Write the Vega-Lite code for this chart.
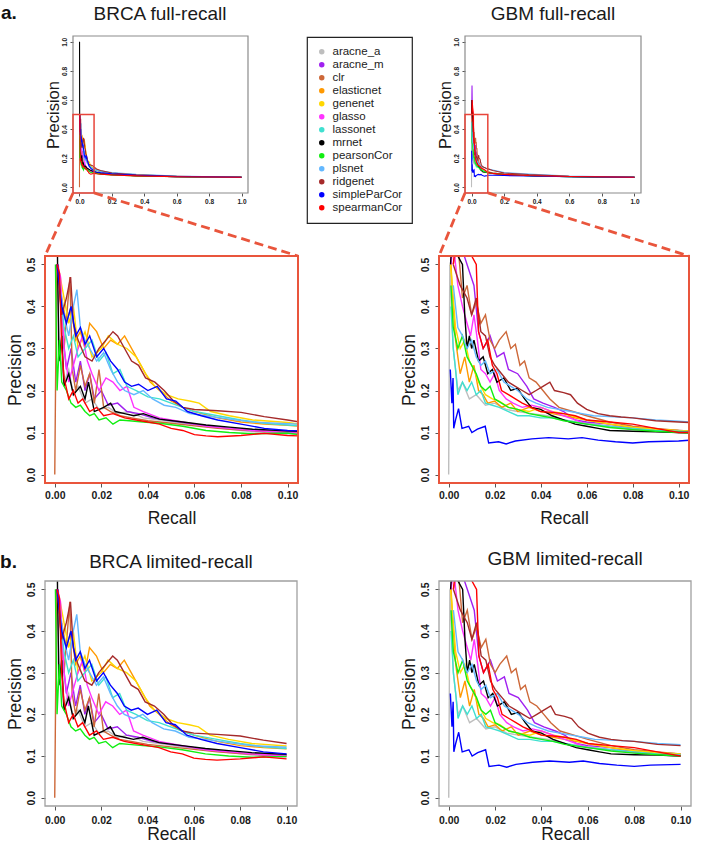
{
  "$schema": "https://vega.github.io/schema/vega-lite/v6.json",
  "autosize": {"type": "none"},
  "padding": {"left": 45, "top": 36, "right": 660, "bottom": 810},
  "background": "white",
  "columns": 2,
  "align": "none",
  "bounds": "flush",
  "spacing": {"row": 63, "column": 141},
  "datasets": {
    "brca": [
      {"m":"aracne_a","r":0.001,"p":0.5},{"m":"aracne_a","r":0.002,"p":0.3},{"m":"aracne_a","r":0.004,"p":0.22},{"m":"aracne_a","r":0.006,"p":0.25},{"m":"aracne_a","r":0.008,"p":0.19},{"m":"aracne_a","r":0.01,"p":0.21},{"m":"aracne_a","r":0.013,"p":0.17},{"m":"aracne_a","r":0.016,"p":0.18},{"m":"aracne_a","r":0.019,"p":0.155},{"m":"aracne_a","r":0.023,"p":0.16},{"m":"aracne_a","r":0.027,"p":0.145},{"m":"aracne_a","r":0.032,"p":0.15},{"m":"aracne_a","r":0.038,"p":0.135},{"m":"aracne_a","r":0.045,"p":0.13},{"m":"aracne_a","r":0.055,"p":0.122},{"m":"aracne_a","r":0.065,"p":0.115},{"m":"aracne_a","r":0.075,"p":0.108},{"m":"aracne_a","r":0.085,"p":0.102},{"m":"aracne_a","r":0.1,"p":0.097},{"m":"aracne_a","r":0.105,"p":0.095},{"m":"aracne_a","r":0.13,"p":0.092},{"m":"aracne_a","r":0.2,"p":0.086},{"m":"aracne_a","r":0.35,"p":0.079},{"m":"aracne_a","r":0.6,"p":0.072},{"m":"aracne_a","r":1,"p":0.068},
      {"m":"aracne_m","r":0.0015,"p":0.5},{"m":"aracne_m","r":0.003,"p":0.36},{"m":"aracne_m","r":0.005,"p":0.25},{"m":"aracne_m","r":0.007,"p":0.3},{"m":"aracne_m","r":0.009,"p":0.22},{"m":"aracne_m","r":0.011,"p":0.27},{"m":"aracne_m","r":0.013,"p":0.2},{"m":"aracne_m","r":0.015,"p":0.24},{"m":"aracne_m","r":0.017,"p":0.18},{"m":"aracne_m","r":0.02,"p":0.2},{"m":"aracne_m","r":0.023,"p":0.165},{"m":"aracne_m","r":0.027,"p":0.17},{"m":"aracne_m","r":0.031,"p":0.15},{"m":"aracne_m","r":0.036,"p":0.145},{"m":"aracne_m","r":0.042,"p":0.135},{"m":"aracne_m","r":0.05,"p":0.128},{"m":"aracne_m","r":0.06,"p":0.12},{"m":"aracne_m","r":0.07,"p":0.113},{"m":"aracne_m","r":0.08,"p":0.107},{"m":"aracne_m","r":0.09,"p":0.103},{"m":"aracne_m","r":0.1,"p":0.102},{"m":"aracne_m","r":0.105,"p":0.1},{"m":"aracne_m","r":0.13,"p":0.093},{"m":"aracne_m","r":0.2,"p":0.086},{"m":"aracne_m","r":0.35,"p":0.079},{"m":"aracne_m","r":0.6,"p":0.072},{"m":"aracne_m","r":1,"p":0.068},
      {"m":"clr","r":0,"p":0},{"m":"clr","r":0.0008,"p":0.5},{"m":"clr","r":0.002,"p":0.45},{"m":"clr","r":0.004,"p":0.3},{"m":"clr","r":0.0065,"p":0.47},{"m":"clr","r":0.0075,"p":0.25},{"m":"clr","r":0.009,"p":0.2},{"m":"clr","r":0.011,"p":0.26},{"m":"clr","r":0.013,"p":0.21},{"m":"clr","r":0.015,"p":0.24},{"m":"clr","r":0.017,"p":0.17},{"m":"clr","r":0.019,"p":0.25},{"m":"clr","r":0.021,"p":0.16},{"m":"clr","r":0.024,"p":0.15},{"m":"clr","r":0.028,"p":0.14},{"m":"clr","r":0.033,"p":0.135},{"m":"clr","r":0.04,"p":0.128},{"m":"clr","r":0.05,"p":0.122},{"m":"clr","r":0.06,"p":0.116},{"m":"clr","r":0.07,"p":0.11},{"m":"clr","r":0.08,"p":0.106},{"m":"clr","r":0.09,"p":0.103},{"m":"clr","r":0.1,"p":0.101},{"m":"clr","r":0.105,"p":0.1},{"m":"clr","r":0.13,"p":0.092},{"m":"clr","r":0.2,"p":0.086},{"m":"clr","r":0.35,"p":0.079},{"m":"clr","r":0.6,"p":0.072},{"m":"clr","r":1,"p":0.068},
      {"m":"elasticnet","r":0.001,"p":0.5},{"m":"elasticnet","r":0.003,"p":0.42},{"m":"elasticnet","r":0.005,"p":0.36},{"m":"elasticnet","r":0.007,"p":0.4},{"m":"elasticnet","r":0.009,"p":0.32},{"m":"elasticnet","r":0.011,"p":0.34},{"m":"elasticnet","r":0.013,"p":0.3},{"m":"elasticnet","r":0.015,"p":0.36},{"m":"elasticnet","r":0.018,"p":0.34},{"m":"elasticnet","r":0.021,"p":0.3},{"m":"elasticnet","r":0.024,"p":0.32},{"m":"elasticnet","r":0.027,"p":0.31},{"m":"elasticnet","r":0.03,"p":0.33},{"m":"elasticnet","r":0.034,"p":0.29},{"m":"elasticnet","r":0.038,"p":0.25},{"m":"elasticnet","r":0.041,"p":0.22},{"m":"elasticnet","r":0.045,"p":0.2},{"m":"elasticnet","r":0.05,"p":0.175},{"m":"elasticnet","r":0.055,"p":0.16},{"m":"elasticnet","r":0.06,"p":0.15},{"m":"elasticnet","r":0.07,"p":0.135},{"m":"elasticnet","r":0.08,"p":0.125},{"m":"elasticnet","r":0.09,"p":0.12},{"m":"elasticnet","r":0.1,"p":0.117},{"m":"elasticnet","r":0.105,"p":0.115},{"m":"elasticnet","r":0.13,"p":0.108},{"m":"elasticnet","r":0.2,"p":0.094},{"m":"elasticnet","r":0.35,"p":0.083},{"m":"elasticnet","r":0.6,"p":0.074},{"m":"elasticnet","r":1,"p":0.068},
      {"m":"genenet","r":0.002,"p":0.48},{"m":"genenet","r":0.004,"p":0.42},{"m":"genenet","r":0.006,"p":0.36},{"m":"genenet","r":0.008,"p":0.4},{"m":"genenet","r":0.01,"p":0.3},{"m":"genenet","r":0.013,"p":0.34},{"m":"genenet","r":0.016,"p":0.28},{"m":"genenet","r":0.02,"p":0.3},{"m":"genenet","r":0.023,"p":0.33},{"m":"genenet","r":0.027,"p":0.31},{"m":"genenet","r":0.031,"p":0.3},{"m":"genenet","r":0.035,"p":0.28},{"m":"genenet","r":0.039,"p":0.24},{"m":"genenet","r":0.043,"p":0.21},{"m":"genenet","r":0.048,"p":0.19},{"m":"genenet","r":0.053,"p":0.18},{"m":"genenet","r":0.058,"p":0.175},{"m":"genenet","r":0.062,"p":0.17},{"m":"genenet","r":0.067,"p":0.15},{"m":"genenet","r":0.075,"p":0.14},{"m":"genenet","r":0.085,"p":0.13},{"m":"genenet","r":0.1,"p":0.124},{"m":"genenet","r":0.105,"p":0.12},{"m":"genenet","r":0.13,"p":0.11},{"m":"genenet","r":0.2,"p":0.095},{"m":"genenet","r":0.35,"p":0.084},{"m":"genenet","r":0.6,"p":0.074},{"m":"genenet","r":1,"p":0.068},
      {"m":"glasso","r":0.001,"p":0.5},{"m":"glasso","r":0.0025,"p":0.47},{"m":"glasso","r":0.004,"p":0.3},{"m":"glasso","r":0.006,"p":0.22},{"m":"glasso","r":0.008,"p":0.26},{"m":"glasso","r":0.01,"p":0.3},{"m":"glasso","r":0.012,"p":0.33},{"m":"glasso","r":0.014,"p":0.27},{"m":"glasso","r":0.016,"p":0.24},{"m":"glasso","r":0.019,"p":0.2},{"m":"glasso","r":0.022,"p":0.23},{"m":"glasso","r":0.025,"p":0.22},{"m":"glasso","r":0.028,"p":0.2},{"m":"glasso","r":0.031,"p":0.21},{"m":"glasso","r":0.034,"p":0.16},{"m":"glasso","r":0.038,"p":0.15},{"m":"glasso","r":0.045,"p":0.135},{"m":"glasso","r":0.055,"p":0.125},{"m":"glasso","r":0.065,"p":0.115},{"m":"glasso","r":0.075,"p":0.11},{"m":"glasso","r":0.085,"p":0.105},{"m":"glasso","r":0.1,"p":0.1},{"m":"glasso","r":0.105,"p":0.098},{"m":"glasso","r":0.13,"p":0.092},{"m":"glasso","r":0.2,"p":0.086},{"m":"glasso","r":0.35,"p":0.079},{"m":"glasso","r":0.6,"p":0.072},{"m":"glasso","r":1,"p":0.068},
      {"m":"lassonet","r":0.002,"p":0.45},{"m":"lassonet","r":0.004,"p":0.35},{"m":"lassonet","r":0.006,"p":0.3},{"m":"lassonet","r":0.008,"p":0.33},{"m":"lassonet","r":0.01,"p":0.28},{"m":"lassonet","r":0.013,"p":0.3},{"m":"lassonet","r":0.016,"p":0.32},{"m":"lassonet","r":0.019,"p":0.27},{"m":"lassonet","r":0.022,"p":0.29},{"m":"lassonet","r":0.025,"p":0.24},{"m":"lassonet","r":0.028,"p":0.25},{"m":"lassonet","r":0.031,"p":0.21},{"m":"lassonet","r":0.035,"p":0.2},{"m":"lassonet","r":0.04,"p":0.185},{"m":"lassonet","r":0.045,"p":0.18},{"m":"lassonet","r":0.05,"p":0.17},{"m":"lassonet","r":0.055,"p":0.16},{"m":"lassonet","r":0.06,"p":0.15},{"m":"lassonet","r":0.07,"p":0.14},{"m":"lassonet","r":0.08,"p":0.13},{"m":"lassonet","r":0.09,"p":0.122},{"m":"lassonet","r":0.1,"p":0.118},{"m":"lassonet","r":0.105,"p":0.116},{"m":"lassonet","r":0.13,"p":0.11},{"m":"lassonet","r":0.2,"p":0.097},{"m":"lassonet","r":0.35,"p":0.086},{"m":"lassonet","r":0.6,"p":0.075},{"m":"lassonet","r":1,"p":0.068},
      {"m":"mrnet","r":0.0004,"p":1},{"m":"mrnet","r":0.0012,"p":0.5},{"m":"mrnet","r":0.0018,"p":0.27},{"m":"mrnet","r":0.003,"p":0.33},{"m":"mrnet","r":0.004,"p":0.21},{"m":"mrnet","r":0.006,"p":0.24},{"m":"mrnet","r":0.008,"p":0.19},{"m":"mrnet","r":0.011,"p":0.21},{"m":"mrnet","r":0.013,"p":0.18},{"m":"mrnet","r":0.0145,"p":0.22},{"m":"mrnet","r":0.017,"p":0.15},{"m":"mrnet","r":0.021,"p":0.16},{"m":"mrnet","r":0.024,"p":0.17},{"m":"mrnet","r":0.026,"p":0.15},{"m":"mrnet","r":0.03,"p":0.145},{"m":"mrnet","r":0.034,"p":0.14},{"m":"mrnet","r":0.038,"p":0.145},{"m":"mrnet","r":0.045,"p":0.132},{"m":"mrnet","r":0.055,"p":0.125},{"m":"mrnet","r":0.065,"p":0.118},{"m":"mrnet","r":0.075,"p":0.113},{"m":"mrnet","r":0.085,"p":0.108},{"m":"mrnet","r":0.1,"p":0.104},{"m":"mrnet","r":0.105,"p":0.103},{"m":"mrnet","r":0.13,"p":0.094},{"m":"mrnet","r":0.2,"p":0.087},{"m":"mrnet","r":0.35,"p":0.079},{"m":"mrnet","r":0.6,"p":0.072},{"m":"mrnet","r":1,"p":0.068},
      {"m":"pearsonCor","r":0.0003,"p":0.5},{"m":"pearsonCor","r":0.001,"p":0.2},{"m":"pearsonCor","r":0.002,"p":0.32},{"m":"pearsonCor","r":0.003,"p":0.22},{"m":"pearsonCor","r":0.005,"p":0.2},{"m":"pearsonCor","r":0.007,"p":0.17},{"m":"pearsonCor","r":0.009,"p":0.16},{"m":"pearsonCor","r":0.011,"p":0.165},{"m":"pearsonCor","r":0.013,"p":0.15},{"m":"pearsonCor","r":0.015,"p":0.14},{"m":"pearsonCor","r":0.017,"p":0.145},{"m":"pearsonCor","r":0.019,"p":0.13},{"m":"pearsonCor","r":0.022,"p":0.135},{"m":"pearsonCor","r":0.025,"p":0.12},{"m":"pearsonCor","r":0.028,"p":0.13},{"m":"pearsonCor","r":0.032,"p":0.128},{"m":"pearsonCor","r":0.038,"p":0.125},{"m":"pearsonCor","r":0.045,"p":0.122},{"m":"pearsonCor","r":0.055,"p":0.115},{"m":"pearsonCor","r":0.065,"p":0.105},{"m":"pearsonCor","r":0.075,"p":0.1},{"m":"pearsonCor","r":0.085,"p":0.097},{"m":"pearsonCor","r":0.1,"p":0.099},{"m":"pearsonCor","r":0.105,"p":0.095},{"m":"pearsonCor","r":0.13,"p":0.09},{"m":"pearsonCor","r":0.2,"p":0.085},{"m":"pearsonCor","r":0.35,"p":0.078},{"m":"pearsonCor","r":0.6,"p":0.072},{"m":"pearsonCor","r":1,"p":0.068},
      {"m":"plsnet","r":0.002,"p":0.45},{"m":"plsnet","r":0.004,"p":0.38},{"m":"plsnet","r":0.006,"p":0.33},{"m":"plsnet","r":0.008,"p":0.4},{"m":"plsnet","r":0.0095,"p":0.44},{"m":"plsnet","r":0.011,"p":0.35},{"m":"plsnet","r":0.013,"p":0.32},{"m":"plsnet","r":0.015,"p":0.3},{"m":"plsnet","r":0.018,"p":0.27},{"m":"plsnet","r":0.021,"p":0.29},{"m":"plsnet","r":0.024,"p":0.25},{"m":"plsnet","r":0.027,"p":0.22},{"m":"plsnet","r":0.03,"p":0.2},{"m":"plsnet","r":0.034,"p":0.19},{"m":"plsnet","r":0.038,"p":0.2},{"m":"plsnet","r":0.042,"p":0.18},{"m":"plsnet","r":0.047,"p":0.165},{"m":"plsnet","r":0.052,"p":0.16},{"m":"plsnet","r":0.058,"p":0.145},{"m":"plsnet","r":0.065,"p":0.14},{"m":"plsnet","r":0.075,"p":0.132},{"m":"plsnet","r":0.085,"p":0.125},{"m":"plsnet","r":0.1,"p":0.121},{"m":"plsnet","r":0.105,"p":0.12},{"m":"plsnet","r":0.13,"p":0.112},{"m":"plsnet","r":0.2,"p":0.1},{"m":"plsnet","r":0.35,"p":0.088},{"m":"plsnet","r":0.6,"p":0.076},{"m":"plsnet","r":1,"p":0.068},
      {"m":"ridgenet","r":0.001,"p":0.5},{"m":"ridgenet","r":0.003,"p":0.38},{"m":"ridgenet","r":0.005,"p":0.42},{"m":"ridgenet","r":0.0068,"p":0.47},{"m":"ridgenet","r":0.008,"p":0.36},{"m":"ridgenet","r":0.01,"p":0.32},{"m":"ridgenet","r":0.013,"p":0.28},{"m":"ridgenet","r":0.016,"p":0.27},{"m":"ridgenet","r":0.019,"p":0.3},{"m":"ridgenet","r":0.022,"p":0.32},{"m":"ridgenet","r":0.025,"p":0.34},{"m":"ridgenet","r":0.027,"p":0.33},{"m":"ridgenet","r":0.03,"p":0.3},{"m":"ridgenet","r":0.033,"p":0.27},{"m":"ridgenet","r":0.036,"p":0.26},{"m":"ridgenet","r":0.039,"p":0.23},{"m":"ridgenet","r":0.043,"p":0.22},{"m":"ridgenet","r":0.047,"p":0.2},{"m":"ridgenet","r":0.051,"p":0.175},{"m":"ridgenet","r":0.055,"p":0.16},{"m":"ridgenet","r":0.06,"p":0.155},{"m":"ridgenet","r":0.07,"p":0.152},{"m":"ridgenet","r":0.08,"p":0.148},{"m":"ridgenet","r":0.09,"p":0.138},{"m":"ridgenet","r":0.1,"p":0.13},{"m":"ridgenet","r":0.105,"p":0.125},{"m":"ridgenet","r":0.13,"p":0.115},{"m":"ridgenet","r":0.2,"p":0.098},{"m":"ridgenet","r":0.35,"p":0.085},{"m":"ridgenet","r":0.6,"p":0.075},{"m":"ridgenet","r":1,"p":0.068},
      {"m":"simpleParCor","r":0.001,"p":0.5},{"m":"simpleParCor","r":0.003,"p":0.4},{"m":"simpleParCor","r":0.005,"p":0.36},{"m":"simpleParCor","r":0.007,"p":0.4},{"m":"simpleParCor","r":0.009,"p":0.33},{"m":"simpleParCor","r":0.011,"p":0.35},{"m":"simpleParCor","r":0.013,"p":0.31},{"m":"simpleParCor","r":0.015,"p":0.33},{"m":"simpleParCor","r":0.018,"p":0.28},{"m":"simpleParCor","r":0.021,"p":0.3},{"m":"simpleParCor","r":0.024,"p":0.27},{"m":"simpleParCor","r":0.027,"p":0.25},{"m":"simpleParCor","r":0.03,"p":0.22},{"m":"simpleParCor","r":0.033,"p":0.21},{"m":"simpleParCor","r":0.036,"p":0.215},{"m":"simpleParCor","r":0.04,"p":0.2},{"m":"simpleParCor","r":0.044,"p":0.21},{"m":"simpleParCor","r":0.048,"p":0.18},{"m":"simpleParCor","r":0.052,"p":0.175},{"m":"simpleParCor","r":0.057,"p":0.15},{"m":"simpleParCor","r":0.063,"p":0.14},{"m":"simpleParCor","r":0.07,"p":0.13},{"m":"simpleParCor","r":0.08,"p":0.12},{"m":"simpleParCor","r":0.09,"p":0.11},{"m":"simpleParCor","r":0.1,"p":0.105},{"m":"simpleParCor","r":0.105,"p":0.104},{"m":"simpleParCor","r":0.13,"p":0.1},{"m":"simpleParCor","r":0.2,"p":0.092},{"m":"simpleParCor","r":0.35,"p":0.082},{"m":"simpleParCor","r":0.6,"p":0.073},{"m":"simpleParCor","r":1,"p":0.068},
      {"m":"spearmanCor","r":0.001,"p":0.5},{"m":"spearmanCor","r":0.002,"p":0.48},{"m":"spearmanCor","r":0.003,"p":0.3},{"m":"spearmanCor","r":0.004,"p":0.23},{"m":"spearmanCor","r":0.006,"p":0.18},{"m":"spearmanCor","r":0.008,"p":0.2},{"m":"spearmanCor","r":0.01,"p":0.17},{"m":"spearmanCor","r":0.012,"p":0.18},{"m":"spearmanCor","r":0.015,"p":0.15},{"m":"spearmanCor","r":0.018,"p":0.16},{"m":"spearmanCor","r":0.021,"p":0.14},{"m":"spearmanCor","r":0.025,"p":0.145},{"m":"spearmanCor","r":0.03,"p":0.135},{"m":"spearmanCor","r":0.035,"p":0.13},{"m":"spearmanCor","r":0.04,"p":0.125},{"m":"spearmanCor","r":0.045,"p":0.12},{"m":"spearmanCor","r":0.05,"p":0.11},{"m":"spearmanCor","r":0.055,"p":0.105},{"m":"spearmanCor","r":0.06,"p":0.095},{"m":"spearmanCor","r":0.065,"p":0.092},{"m":"spearmanCor","r":0.07,"p":0.09},{"m":"spearmanCor","r":0.08,"p":0.093},{"m":"spearmanCor","r":0.09,"p":0.098},{"m":"spearmanCor","r":0.1,"p":0.093},{"m":"spearmanCor","r":0.105,"p":0.092},{"m":"spearmanCor","r":0.13,"p":0.09},{"m":"spearmanCor","r":0.2,"p":0.085},{"m":"spearmanCor","r":0.35,"p":0.078},{"m":"spearmanCor","r":0.6,"p":0.072},{"m":"spearmanCor","r":1,"p":0.068}
    ],
    "gbm": [
      {"m":"aracne_a","r":0,"p":0},{"m":"aracne_a","r":0.0005,"p":0.5},{"m":"aracne_a","r":0.002,"p":0.3},{"m":"aracne_a","r":0.004,"p":0.2},{"m":"aracne_a","r":0.006,"p":0.22},{"m":"aracne_a","r":0.009,"p":0.18},{"m":"aracne_a","r":0.012,"p":0.19},{"m":"aracne_a","r":0.016,"p":0.165},{"m":"aracne_a","r":0.02,"p":0.17},{"m":"aracne_a","r":0.025,"p":0.155},{"m":"aracne_a","r":0.03,"p":0.15},{"m":"aracne_a","r":0.036,"p":0.145},{"m":"aracne_a","r":0.043,"p":0.14},{"m":"aracne_a","r":0.05,"p":0.13},{"m":"aracne_a","r":0.06,"p":0.122},{"m":"aracne_a","r":0.07,"p":0.115},{"m":"aracne_a","r":0.08,"p":0.11},{"m":"aracne_a","r":0.09,"p":0.105},{"m":"aracne_a","r":0.1,"p":0.102},{"m":"aracne_a","r":0.105,"p":0.1},{"m":"aracne_a","r":0.13,"p":0.095},{"m":"aracne_a","r":0.2,"p":0.088},{"m":"aracne_a","r":0.35,"p":0.08},{"m":"aracne_a","r":0.6,"p":0.073},{"m":"aracne_a","r":1,"p":0.068},
      {"m":"aracne_m","r":0.001,"p":0.5},{"m":"aracne_m","r":0.003,"p":0.7},{"m":"aracne_m","r":0.005,"p":0.55},{"m":"aracne_m","r":0.008,"p":0.5},{"m":"aracne_m","r":0.011,"p":0.45},{"m":"aracne_m","r":0.013,"p":0.34},{"m":"aracne_m","r":0.015,"p":0.3},{"m":"aracne_m","r":0.018,"p":0.33},{"m":"aracne_m","r":0.021,"p":0.28},{"m":"aracne_m","r":0.024,"p":0.29},{"m":"aracne_m","r":0.026,"p":0.25},{"m":"aracne_m","r":0.03,"p":0.24},{"m":"aracne_m","r":0.034,"p":0.21},{"m":"aracne_m","r":0.037,"p":0.18},{"m":"aracne_m","r":0.041,"p":0.17},{"m":"aracne_m","r":0.046,"p":0.16},{"m":"aracne_m","r":0.05,"p":0.15},{"m":"aracne_m","r":0.055,"p":0.13},{"m":"aracne_m","r":0.06,"p":0.125},{"m":"aracne_m","r":0.07,"p":0.12},{"m":"aracne_m","r":0.08,"p":0.11},{"m":"aracne_m","r":0.09,"p":0.108},{"m":"aracne_m","r":0.1,"p":0.105},{"m":"aracne_m","r":0.105,"p":0.104},{"m":"aracne_m","r":0.13,"p":0.097},{"m":"aracne_m","r":0.2,"p":0.088},{"m":"aracne_m","r":0.35,"p":0.08},{"m":"aracne_m","r":0.6,"p":0.073},{"m":"aracne_m","r":1,"p":0.068},
      {"m":"clr","r":0.002,"p":0.5},{"m":"clr","r":0.004,"p":0.55},{"m":"clr","r":0.006,"p":0.42},{"m":"clr","r":0.008,"p":0.45},{"m":"clr","r":0.01,"p":0.38},{"m":"clr","r":0.012,"p":0.41},{"m":"clr","r":0.014,"p":0.36},{"m":"clr","r":0.016,"p":0.38},{"m":"clr","r":0.018,"p":0.32},{"m":"clr","r":0.02,"p":0.3},{"m":"clr","r":0.022,"p":0.32},{"m":"clr","r":0.025,"p":0.34},{"m":"clr","r":0.027,"p":0.3},{"m":"clr","r":0.029,"p":0.31},{"m":"clr","r":0.031,"p":0.26},{"m":"clr","r":0.033,"p":0.27},{"m":"clr","r":0.035,"p":0.23},{"m":"clr","r":0.038,"p":0.22},{"m":"clr","r":0.041,"p":0.2},{"m":"clr","r":0.044,"p":0.18},{"m":"clr","r":0.048,"p":0.16},{"m":"clr","r":0.054,"p":0.15},{"m":"clr","r":0.06,"p":0.14},{"m":"clr","r":0.07,"p":0.125},{"m":"clr","r":0.08,"p":0.115},{"m":"clr","r":0.09,"p":0.11},{"m":"clr","r":0.1,"p":0.105},{"m":"clr","r":0.105,"p":0.104},{"m":"clr","r":0.13,"p":0.097},{"m":"clr","r":0.2,"p":0.088},{"m":"clr","r":0.35,"p":0.08},{"m":"clr","r":0.6,"p":0.073},{"m":"clr","r":1,"p":0.068},
      {"m":"elasticnet","r":0.001,"p":0.5},{"m":"elasticnet","r":0.002,"p":0.4},{"m":"elasticnet","r":0.003,"p":0.32},{"m":"elasticnet","r":0.005,"p":0.24},{"m":"elasticnet","r":0.007,"p":0.28},{"m":"elasticnet","r":0.009,"p":0.22},{"m":"elasticnet","r":0.011,"p":0.26},{"m":"elasticnet","r":0.013,"p":0.2},{"m":"elasticnet","r":0.015,"p":0.19},{"m":"elasticnet","r":0.017,"p":0.17},{"m":"elasticnet","r":0.02,"p":0.175},{"m":"elasticnet","r":0.023,"p":0.16},{"m":"elasticnet","r":0.027,"p":0.17},{"m":"elasticnet","r":0.03,"p":0.15},{"m":"elasticnet","r":0.035,"p":0.16},{"m":"elasticnet","r":0.04,"p":0.15},{"m":"elasticnet","r":0.045,"p":0.145},{"m":"elasticnet","r":0.05,"p":0.14},{"m":"elasticnet","r":0.06,"p":0.13},{"m":"elasticnet","r":0.07,"p":0.12},{"m":"elasticnet","r":0.08,"p":0.112},{"m":"elasticnet","r":0.09,"p":0.107},{"m":"elasticnet","r":0.1,"p":0.104},{"m":"elasticnet","r":0.105,"p":0.103},{"m":"elasticnet","r":0.13,"p":0.097},{"m":"elasticnet","r":0.2,"p":0.088},{"m":"elasticnet","r":0.35,"p":0.08},{"m":"elasticnet","r":0.6,"p":0.073},{"m":"elasticnet","r":1,"p":0.068},
      {"m":"genenet","r":0.0008,"p":0.5},{"m":"genenet","r":0.002,"p":0.42},{"m":"genenet","r":0.003,"p":0.35},{"m":"genenet","r":0.005,"p":0.3},{"m":"genenet","r":0.007,"p":0.32},{"m":"genenet","r":0.009,"p":0.27},{"m":"genenet","r":0.011,"p":0.25},{"m":"genenet","r":0.013,"p":0.22},{"m":"genenet","r":0.016,"p":0.19},{"m":"genenet","r":0.019,"p":0.18},{"m":"genenet","r":0.022,"p":0.175},{"m":"genenet","r":0.026,"p":0.16},{"m":"genenet","r":0.03,"p":0.155},{"m":"genenet","r":0.035,"p":0.15},{"m":"genenet","r":0.04,"p":0.16},{"m":"genenet","r":0.045,"p":0.15},{"m":"genenet","r":0.05,"p":0.145},{"m":"genenet","r":0.06,"p":0.13},{"m":"genenet","r":0.07,"p":0.12},{"m":"genenet","r":0.08,"p":0.113},{"m":"genenet","r":0.09,"p":0.108},{"m":"genenet","r":0.1,"p":0.105},{"m":"genenet","r":0.105,"p":0.104},{"m":"genenet","r":0.13,"p":0.097},{"m":"genenet","r":0.2,"p":0.088},{"m":"genenet","r":0.35,"p":0.08},{"m":"genenet","r":0.6,"p":0.073},{"m":"genenet","r":1,"p":0.068},
      {"m":"glasso","r":0.001,"p":0.5},{"m":"glasso","r":0.002,"p":0.55},{"m":"glasso","r":0.004,"p":0.45},{"m":"glasso","r":0.006,"p":0.4},{"m":"glasso","r":0.008,"p":0.36},{"m":"glasso","r":0.0095,"p":0.33},{"m":"glasso","r":0.011,"p":0.38},{"m":"glasso","r":0.0125,"p":0.32},{"m":"glasso","r":0.014,"p":0.25},{"m":"glasso","r":0.016,"p":0.24},{"m":"glasso","r":0.018,"p":0.22},{"m":"glasso","r":0.02,"p":0.24},{"m":"glasso","r":0.022,"p":0.2},{"m":"glasso","r":0.025,"p":0.18},{"m":"glasso","r":0.028,"p":0.17},{"m":"glasso","r":0.032,"p":0.16},{"m":"glasso","r":0.036,"p":0.165},{"m":"glasso","r":0.04,"p":0.16},{"m":"glasso","r":0.045,"p":0.15},{"m":"glasso","r":0.05,"p":0.14},{"m":"glasso","r":0.055,"p":0.13},{"m":"glasso","r":0.06,"p":0.12},{"m":"glasso","r":0.07,"p":0.115},{"m":"glasso","r":0.08,"p":0.108},{"m":"glasso","r":0.09,"p":0.103},{"m":"glasso","r":0.1,"p":0.1},{"m":"glasso","r":0.105,"p":0.099},{"m":"glasso","r":0.13,"p":0.095},{"m":"glasso","r":0.2,"p":0.088},{"m":"glasso","r":0.35,"p":0.08},{"m":"glasso","r":0.6,"p":0.073},{"m":"glasso","r":1,"p":0.068},
      {"m":"lassonet","r":0.001,"p":0.4},{"m":"lassonet","r":0.002,"p":0.3},{"m":"lassonet","r":0.003,"p":0.25},{"m":"lassonet","r":0.004,"p":0.19},{"m":"lassonet","r":0.006,"p":0.22},{"m":"lassonet","r":0.008,"p":0.2},{"m":"lassonet","r":0.01,"p":0.22},{"m":"lassonet","r":0.012,"p":0.19},{"m":"lassonet","r":0.014,"p":0.2},{"m":"lassonet","r":0.016,"p":0.17},{"m":"lassonet","r":0.019,"p":0.165},{"m":"lassonet","r":0.022,"p":0.16},{"m":"lassonet","r":0.026,"p":0.15},{"m":"lassonet","r":0.03,"p":0.14},{"m":"lassonet","r":0.035,"p":0.14},{"m":"lassonet","r":0.04,"p":0.135},{"m":"lassonet","r":0.045,"p":0.135},{"m":"lassonet","r":0.05,"p":0.13},{"m":"lassonet","r":0.06,"p":0.12},{"m":"lassonet","r":0.07,"p":0.115},{"m":"lassonet","r":0.08,"p":0.11},{"m":"lassonet","r":0.09,"p":0.105},{"m":"lassonet","r":0.1,"p":0.103},{"m":"lassonet","r":0.105,"p":0.102},{"m":"lassonet","r":0.13,"p":0.097},{"m":"lassonet","r":0.2,"p":0.09},{"m":"lassonet","r":0.35,"p":0.082},{"m":"lassonet","r":0.6,"p":0.074},{"m":"lassonet","r":1,"p":0.068},
      {"m":"mrnet","r":0.0008,"p":0.5},{"m":"mrnet","r":0.002,"p":0.6},{"m":"mrnet","r":0.004,"p":0.52},{"m":"mrnet","r":0.006,"p":0.5},{"m":"mrnet","r":0.007,"p":0.38},{"m":"mrnet","r":0.008,"p":0.3},{"m":"mrnet","r":0.009,"p":0.33},{"m":"mrnet","r":0.01,"p":0.3},{"m":"mrnet","r":0.011,"p":0.32},{"m":"mrnet","r":0.013,"p":0.27},{"m":"mrnet","r":0.015,"p":0.28},{"m":"mrnet","r":0.017,"p":0.24},{"m":"mrnet","r":0.019,"p":0.25},{"m":"mrnet","r":0.021,"p":0.22},{"m":"mrnet","r":0.024,"p":0.23},{"m":"mrnet","r":0.027,"p":0.2},{"m":"mrnet","r":0.03,"p":0.205},{"m":"mrnet","r":0.033,"p":0.18},{"m":"mrnet","r":0.036,"p":0.16},{"m":"mrnet","r":0.04,"p":0.155},{"m":"mrnet","r":0.045,"p":0.14},{"m":"mrnet","r":0.05,"p":0.13},{"m":"mrnet","r":0.055,"p":0.12},{"m":"mrnet","r":0.06,"p":0.115},{"m":"mrnet","r":0.065,"p":0.11},{"m":"mrnet","r":0.07,"p":0.105},{"m":"mrnet","r":0.08,"p":0.103},{"m":"mrnet","r":0.09,"p":0.102},{"m":"mrnet","r":0.1,"p":0.1},{"m":"mrnet","r":0.105,"p":0.1},{"m":"mrnet","r":0.13,"p":0.094},{"m":"mrnet","r":0.2,"p":0.087},{"m":"mrnet","r":0.35,"p":0.079},{"m":"mrnet","r":0.6,"p":0.072},{"m":"mrnet","r":1,"p":0.068},
      {"m":"pearsonCor","r":0.001,"p":0.45},{"m":"pearsonCor","r":0.002,"p":0.35},{"m":"pearsonCor","r":0.004,"p":0.3},{"m":"pearsonCor","r":0.006,"p":0.33},{"m":"pearsonCor","r":0.008,"p":0.28},{"m":"pearsonCor","r":0.01,"p":0.26},{"m":"pearsonCor","r":0.012,"p":0.24},{"m":"pearsonCor","r":0.014,"p":0.21},{"m":"pearsonCor","r":0.016,"p":0.2},{"m":"pearsonCor","r":0.018,"p":0.21},{"m":"pearsonCor","r":0.02,"p":0.18},{"m":"pearsonCor","r":0.023,"p":0.17},{"m":"pearsonCor","r":0.026,"p":0.16},{"m":"pearsonCor","r":0.03,"p":0.155},{"m":"pearsonCor","r":0.035,"p":0.145},{"m":"pearsonCor","r":0.04,"p":0.14},{"m":"pearsonCor","r":0.045,"p":0.135},{"m":"pearsonCor","r":0.05,"p":0.128},{"m":"pearsonCor","r":0.06,"p":0.12},{"m":"pearsonCor","r":0.07,"p":0.112},{"m":"pearsonCor","r":0.08,"p":0.107},{"m":"pearsonCor","r":0.09,"p":0.103},{"m":"pearsonCor","r":0.1,"p":0.1},{"m":"pearsonCor","r":0.105,"p":0.098},{"m":"pearsonCor","r":0.13,"p":0.094},{"m":"pearsonCor","r":0.2,"p":0.087},{"m":"pearsonCor","r":0.35,"p":0.079},{"m":"pearsonCor","r":0.6,"p":0.072},{"m":"pearsonCor","r":1,"p":0.068},
      {"m":"plsnet","r":0.002,"p":0.45},{"m":"plsnet","r":0.004,"p":0.35},{"m":"plsnet","r":0.006,"p":0.33},{"m":"plsnet","r":0.008,"p":0.3},{"m":"plsnet","r":0.01,"p":0.32},{"m":"plsnet","r":0.012,"p":0.28},{"m":"plsnet","r":0.014,"p":0.26},{"m":"plsnet","r":0.016,"p":0.27},{"m":"plsnet","r":0.018,"p":0.24},{"m":"plsnet","r":0.021,"p":0.25},{"m":"plsnet","r":0.024,"p":0.22},{"m":"plsnet","r":0.027,"p":0.21},{"m":"plsnet","r":0.03,"p":0.2},{"m":"plsnet","r":0.034,"p":0.18},{"m":"plsnet","r":0.038,"p":0.17},{"m":"plsnet","r":0.043,"p":0.16},{"m":"plsnet","r":0.048,"p":0.155},{"m":"plsnet","r":0.053,"p":0.15},{"m":"plsnet","r":0.058,"p":0.145},{"m":"plsnet","r":0.063,"p":0.14},{"m":"plsnet","r":0.07,"p":0.138},{"m":"plsnet","r":0.08,"p":0.135},{"m":"plsnet","r":0.09,"p":0.13},{"m":"plsnet","r":0.1,"p":0.127},{"m":"plsnet","r":0.105,"p":0.125},{"m":"plsnet","r":0.13,"p":0.118},{"m":"plsnet","r":0.2,"p":0.1},{"m":"plsnet","r":0.35,"p":0.09},{"m":"plsnet","r":0.6,"p":0.077},{"m":"plsnet","r":1,"p":0.068},
      {"m":"ridgenet","r":0.002,"p":0.5},{"m":"ridgenet","r":0.005,"p":0.45},{"m":"ridgenet","r":0.008,"p":0.42},{"m":"ridgenet","r":0.01,"p":0.38},{"m":"ridgenet","r":0.012,"p":0.42},{"m":"ridgenet","r":0.014,"p":0.34},{"m":"ridgenet","r":0.016,"p":0.33},{"m":"ridgenet","r":0.018,"p":0.28},{"m":"ridgenet","r":0.02,"p":0.26},{"m":"ridgenet","r":0.023,"p":0.24},{"m":"ridgenet","r":0.026,"p":0.22},{"m":"ridgenet","r":0.029,"p":0.21},{"m":"ridgenet","r":0.032,"p":0.2},{"m":"ridgenet","r":0.035,"p":0.19},{"m":"ridgenet","r":0.038,"p":0.2},{"m":"ridgenet","r":0.041,"p":0.21},{"m":"ridgenet","r":0.044,"p":0.22},{"m":"ridgenet","r":0.046,"p":0.2},{"m":"ridgenet","r":0.05,"p":0.195},{"m":"ridgenet","r":0.053,"p":0.19},{"m":"ridgenet","r":0.056,"p":0.17},{"m":"ridgenet","r":0.06,"p":0.155},{"m":"ridgenet","r":0.065,"p":0.145},{"m":"ridgenet","r":0.07,"p":0.14},{"m":"ridgenet","r":0.075,"p":0.137},{"m":"ridgenet","r":0.08,"p":0.135},{"m":"ridgenet","r":0.09,"p":0.128},{"m":"ridgenet","r":0.1,"p":0.125},{"m":"ridgenet","r":0.105,"p":0.124},{"m":"ridgenet","r":0.13,"p":0.115},{"m":"ridgenet","r":0.2,"p":0.098},{"m":"ridgenet","r":0.35,"p":0.087},{"m":"ridgenet","r":0.6,"p":0.075},{"m":"ridgenet","r":1,"p":0.068},
      {"m":"simpleParCor","r":0.0007,"p":0.25},{"m":"simpleParCor","r":0.0014,"p":0.17},{"m":"simpleParCor","r":0.0019,"p":0.23},{"m":"simpleParCor","r":0.0022,"p":0.11},{"m":"simpleParCor","r":0.003,"p":0.13},{"m":"simpleParCor","r":0.0043,"p":0.157},{"m":"simpleParCor","r":0.0058,"p":0.11},{"m":"simpleParCor","r":0.0087,"p":0.115},{"m":"simpleParCor","r":0.0101,"p":0.1},{"m":"simpleParCor","r":0.0125,"p":0.108},{"m":"simpleParCor","r":0.0159,"p":0.115},{"m":"simpleParCor","r":0.0174,"p":0.075},{"m":"simpleParCor","r":0.0217,"p":0.078},{"m":"simpleParCor","r":0.025,"p":0.073},{"m":"simpleParCor","r":0.029,"p":0.08},{"m":"simpleParCor","r":0.0362,"p":0.085},{"m":"simpleParCor","r":0.0435,"p":0.088},{"m":"simpleParCor","r":0.052,"p":0.085},{"m":"simpleParCor","r":0.058,"p":0.088},{"m":"simpleParCor","r":0.065,"p":0.082},{"m":"simpleParCor","r":0.0725,"p":0.078},{"m":"simpleParCor","r":0.08,"p":0.075},{"m":"simpleParCor","r":0.087,"p":0.078},{"m":"simpleParCor","r":0.1,"p":0.08},{"m":"simpleParCor","r":0.105,"p":0.082},{"m":"simpleParCor","r":0.13,"p":0.082},{"m":"simpleParCor","r":0.2,"p":0.08},{"m":"simpleParCor","r":0.35,"p":0.077},{"m":"simpleParCor","r":0.6,"p":0.072},{"m":"simpleParCor","r":1,"p":0.068},
      {"m":"spearmanCor","r":0.002,"p":0.5},{"m":"spearmanCor","r":0.004,"p":0.6},{"m":"spearmanCor","r":0.007,"p":0.55},{"m":"spearmanCor","r":0.01,"p":0.52},{"m":"spearmanCor","r":0.012,"p":0.5},{"m":"spearmanCor","r":0.013,"p":0.34},{"m":"spearmanCor","r":0.015,"p":0.3},{"m":"spearmanCor","r":0.017,"p":0.32},{"m":"spearmanCor","r":0.019,"p":0.26},{"m":"spearmanCor","r":0.021,"p":0.24},{"m":"spearmanCor","r":0.023,"p":0.2},{"m":"spearmanCor","r":0.026,"p":0.19},{"m":"spearmanCor","r":0.029,"p":0.18},{"m":"spearmanCor","r":0.032,"p":0.17},{"m":"spearmanCor","r":0.036,"p":0.16},{"m":"spearmanCor","r":0.04,"p":0.15},{"m":"spearmanCor","r":0.045,"p":0.148},{"m":"spearmanCor","r":0.05,"p":0.145},{"m":"spearmanCor","r":0.055,"p":0.14},{"m":"spearmanCor","r":0.06,"p":0.13},{"m":"spearmanCor","r":0.07,"p":0.125},{"m":"spearmanCor","r":0.08,"p":0.12},{"m":"spearmanCor","r":0.09,"p":0.11},{"m":"spearmanCor","r":0.1,"p":0.1},{"m":"spearmanCor","r":0.105,"p":0.1},{"m":"spearmanCor","r":0.13,"p":0.095},{"m":"spearmanCor","r":0.2,"p":0.088},{"m":"spearmanCor","r":0.35,"p":0.08},{"m":"spearmanCor","r":0.6,"p":0.073},{"m":"spearmanCor","r":1,"p":0.068}
    ]
  },
  "concat": [
    {
      "width": 203, "height": 157,
      "title": {"text": "BRCA full-recall", "dx": 13.5, "offset": 11, "frame": "group"},
      "resolve": {"axis": {"y": "independent"}},
      "layer": [
        {
          "data": {"name": "brca"},
          "mark": {"type": "line", "clip": true, "strokeWidth": 1.1},
          "encoding": {
            "x": {"field": "r", "type": "quantitative",
                  "scale": {"domain": [-0.04, 1.04], "range": [28, 203], "nice": false, "zero": false},
                  "axis": {"values": [0, 0.2, 0.4, 0.6, 0.8, 1], "format": ".1f", "labelFontSize": 6.5, "tickSize": 3, "labelPadding": 2.5, "title": null}},
            "y": {"field": "p", "type": "quantitative",
                  "scale": {"domain": [-0.04, 1.04], "nice": false, "zero": false},
                  "axis": {"values": [0, 0.2, 0.4, 0.6, 0.8, 1], "format": ".1f", "labelFontSize": 6.5, "tickSize": 3, "labelPadding": 2.5, "labelOverlap": false, "offset": -28, "title": "Precision", "titleFontSize": 16.5, "titlePadding": 0}},
            "color": {"field": "m", "type": "nominal",
                      "scale": {"domain": ["aracne_a", "aracne_m", "clr", "elasticnet", "genenet", "glasso", "lassonet", "mrnet", "pearsonCor", "plsnet", "ridgenet", "simpleParCor", "spearmanCor"],
                                "range": ["#bebebe", "#a020f0", "#cd6839", "#ff9900", "#ffd700", "#ff33ff", "#40e0d0", "#000000", "#11ee11", "#63b8ff", "#a52a2a", "#0000ff", "#ff0000"]},
                      "legend": {"title": null,
                                 "encode": {"symbols": {"update": {"fill": {"scale": "color", "field": "value"}, "fillOpacity": {"value": 1}, "strokeWidth": {"value": 0}, "shape": {"value": "circle"}}}}}}
          }
        },
        {
          "data": {"values": [{}]},
          "mark": {"type": "rect", "filled": false, "stroke": "#8c8c8c", "strokeWidth": 1.2},
          "encoding": {"x": {"datum": -0.04}, "x2": {"datum": 1.04}, "y": {"datum": -0.04, "axis": null}, "y2": {"datum": 1.04}}
        },
        {
          "data": {"values": [{}]},
          "mark": {"type": "rect", "filled": false, "stroke": "#e8453a", "strokeWidth": 1.5},
          "encoding": {"x": {"datum": -0.04}, "x2": {"datum": 0.09}, "y": {"datum": -0.04, "axis": null}, "y2": {"datum": 0.5}}
        }
      ]
    },
    {
      "width": 252, "height": 157,
      "title": {"text": "GBM full-recall", "dx": -12, "offset": 11, "frame": "group"},
      "resolve": {"axis": {"y": "independent"}},
      "layer": [
        {
          "data": {"name": "gbm"},
          "mark": {"type": "line", "clip": true, "strokeWidth": 1.1},
          "encoding": {
            "x": {"field": "r", "type": "quantitative",
                  "scale": {"domain": [-0.04, 1.04], "range": [26, 202], "nice": false, "zero": false},
                  "axis": {"values": [0, 0.2, 0.4, 0.6, 0.8, 1], "format": ".1f", "labelFontSize": 6.5, "tickSize": 3, "labelPadding": 2.5, "title": null}},
            "y": {"field": "p", "type": "quantitative",
                  "scale": {"domain": [-0.04, 1.04], "nice": false, "zero": false},
                  "axis": {"values": [0, 0.2, 0.4, 0.6, 0.8, 1], "format": ".1f", "labelFontSize": 6.5, "tickSize": 3, "labelPadding": 2.5, "labelOverlap": false, "offset": -26, "title": "Precision", "titleFontSize": 16.5, "titlePadding": 0}},
            "color": {"field": "m", "type": "nominal", "legend": null}
          }
        },
        {
          "data": {"values": [{}]},
          "mark": {"type": "rect", "filled": false, "stroke": "#8c8c8c", "strokeWidth": 1.2},
          "encoding": {"x": {"datum": -0.04}, "x2": {"datum": 1.04}, "y": {"datum": -0.04, "axis": null}, "y2": {"datum": 1.04}}
        },
        {
          "data": {"values": [{}]},
          "mark": {"type": "rect", "filled": false, "stroke": "#e8453a", "strokeWidth": 1.5},
          "encoding": {"x": {"datum": -0.04}, "x2": {"datum": 0.1}, "y": {"datum": -0.04, "axis": null}, "y2": {"datum": 0.5}}
        }
      ]
    },
    {
      "width": 253, "height": 262,
      "layer": [
        {
          "data": {"name": "brca"},
          "mark": {"type": "line", "clip": true, "strokeWidth": 1.4},
          "encoding": {
            "x": {"field": "r", "type": "quantitative",
                  "scale": {"domain": [-0.0042, 0.1045], "nice": false, "zero": false},
                  "axis": {"values": [0, 0.02, 0.04, 0.06, 0.08, 0.1], "format": ".2f", "offset": -35, "title": "Recall", "titlePadding": 9}},
            "y": {"field": "p", "type": "quantitative",
                  "scale": {"domain": [-0.02, 0.52], "range": [227, 0], "nice": false, "zero": false},
                  "axis": {"values": [0, 0.1, 0.2, 0.3, 0.4, 0.5], "format": ".1f", "title": "Precision", "titlePadding": 2}},
            "color": {"field": "m", "type": "nominal", "legend": null}
          }
        },
        {
          "data": {"values": [{}]},
          "mark": {"type": "rect", "filled": false, "stroke": "#e9553c", "strokeWidth": 2},
          "encoding": {"x": {"datum": -0.0042}, "x2": {"datum": 0.1045}, "y": {"datum": -0.02}, "y2": {"datum": 0.52}}
        },
        {
          "data": {"values": [{}]},
          "mark": {"type": "rule", "stroke": "#e9553c", "strokeWidth": 2.8, "strokeDash": [9, 5]},
          "encoding": {"x": {"datum": 0.00783}, "x2": {"datum": -0.0042}, "y": {"datum": 0.67}, "y2": {"datum": 0.52}}
        },
        {
          "data": {"values": [{}]},
          "mark": {"type": "rule", "stroke": "#e9553c", "strokeWidth": 2.8, "strokeDash": [9, 5]},
          "encoding": {"x": {"datum": 0.0169}, "x2": {"datum": 0.1045}, "y": {"datum": 0.67}, "y2": {"datum": 0.52}}
        },
        {
          "data": {"values": [{}]},
          "mark": {"type": "text", "text": "a.", "align": "left", "baseline": "alphabetic", "fontSize": 19, "fontWeight": "bold", "font": "Liberation Sans", "color": "#111"},
          "encoding": {"x": {"datum": -0.0231}, "y": {"datum": 1.0838}}
        },
        {
          "data": {"values": [{}]},
          "mark": {"type": "text", "text": "b.", "align": "left", "baseline": "alphabetic", "fontSize": 19, "fontWeight": "bold", "font": "Liberation Sans", "color": "#111"},
          "encoding": {"x": {"datum": -0.0235}, "y": {"datum": -0.222}}
        }
      ]
    },
    {
      "width": 250, "height": 262,
      "layer": [
        {
          "data": {"name": "gbm"},
          "mark": {"type": "line", "clip": true, "strokeWidth": 1.4},
          "encoding": {
            "x": {"field": "r", "type": "quantitative",
                  "scale": {"domain": [-0.0042, 0.1045], "nice": false, "zero": false},
                  "axis": {"values": [0, 0.02, 0.04, 0.06, 0.08, 0.1], "format": ".2f", "offset": -35, "title": "Recall", "titlePadding": 9}},
            "y": {"field": "p", "type": "quantitative",
                  "scale": {"domain": [-0.02, 0.52], "range": [227, 0], "nice": false, "zero": false},
                  "axis": {"values": [0, 0.1, 0.2, 0.3, 0.4, 0.5], "format": ".1f", "title": "Precision", "titlePadding": 2}},
            "color": {"field": "m", "type": "nominal", "legend": null}
          }
        },
        {
          "data": {"values": [{}]},
          "mark": {"type": "rect", "filled": false, "stroke": "#e9553c", "strokeWidth": 2},
          "encoding": {"x": {"datum": -0.0042}, "x2": {"datum": 0.1045}, "y": {"datum": -0.02}, "y2": {"datum": 0.52}}
        },
        {
          "data": {"values": [{}]},
          "mark": {"type": "rule", "stroke": "#e9553c", "strokeWidth": 2.8, "strokeDash": [9, 5]},
          "encoding": {"x": {"datum": 0.0071}, "x2": {"datum": -0.0042}, "y": {"datum": 0.67}, "y2": {"datum": 0.52}}
        },
        {
          "data": {"values": [{}]},
          "mark": {"type": "rule", "stroke": "#e9553c", "strokeWidth": 2.8, "strokeDash": [9, 5]},
          "encoding": {"x": {"datum": 0.0171}, "x2": {"datum": 0.1045}, "y": {"datum": 0.67}, "y2": {"datum": 0.52}}
        }
      ]
    },
    {
      "width": 252, "height": 225,
      "title": {"text": "BRCA limited-recall", "offset": 8.5, "frame": "group"},
      "layer": [
        {
          "data": {"name": "brca"},
          "transform": [{"filter": "datum.r <= 0.1001"}],
          "mark": {"type": "line", "clip": true, "strokeWidth": 1.4},
          "encoding": {
            "x": {"field": "r", "type": "quantitative",
                  "scale": {"domain": [-0.0042, 0.1045], "nice": false, "zero": false},
                  "axis": {"values": [0, 0.02, 0.04, 0.06, 0.08, 0.1], "format": ".2f", "labelPadding": 5, "title": "Recall", "titlePadding": 0}},
            "y": {"field": "p", "type": "quantitative",
                  "scale": {"domain": [-0.02, 0.52], "nice": false, "zero": false},
                  "axis": {"values": [0, 0.1, 0.2, 0.3, 0.4, 0.5], "format": ".1f", "title": "Precision", "titlePadding": 2}},
            "color": {"field": "m", "type": "nominal", "legend": null}
          }
        },
        {
          "data": {"values": [{}]},
          "mark": {"type": "rect", "filled": false, "stroke": "#a0a0a0", "strokeWidth": 1.3},
          "encoding": {"x": {"datum": -0.0042}, "x2": {"datum": 0.1045}, "y": {"datum": -0.02}, "y2": {"datum": 0.52}}
        }
      ]
    },
    {
      "width": 252, "height": 225,
      "title": {"text": "GBM limited-recall", "offset": 11, "frame": "group"},
      "layer": [
        {
          "data": {"name": "gbm"},
          "transform": [{"filter": "datum.r <= 0.1001"}],
          "mark": {"type": "line", "clip": true, "strokeWidth": 1.4},
          "encoding": {
            "x": {"field": "r", "type": "quantitative",
                  "scale": {"domain": [-0.0042, 0.1045], "nice": false, "zero": false},
                  "axis": {"values": [0, 0.02, 0.04, 0.06, 0.08, 0.1], "format": ".2f", "labelPadding": 5, "title": "Recall", "titlePadding": 0}},
            "y": {"field": "p", "type": "quantitative",
                  "scale": {"domain": [-0.02, 0.52], "nice": false, "zero": false},
                  "axis": {"values": [0, 0.1, 0.2, 0.3, 0.4, 0.5], "format": ".1f", "title": "Precision", "titlePadding": 2}},
            "color": {"field": "m", "type": "nominal", "legend": null}
          }
        },
        {
          "data": {"values": [{}]},
          "mark": {"type": "rect", "filled": false, "stroke": "#a0a0a0", "strokeWidth": 1.3},
          "encoding": {"x": {"datum": -0.0042}, "x2": {"datum": 0.1045}, "y": {"datum": -0.02}, "y2": {"datum": 0.52}}
        }
      ]
    }
  ],
  "config": {
    "view": {"stroke": null},
    "font": "Liberation Sans",
    "axis": {"domain": false, "grid": false, "ticks": true, "tickColor": "#555555", "tickSize": 4, "tickWidth": 1,
             "labelFont": "Liberation Sans", "labelFontWeight": "bold", "labelFontSize": 10.5, "labelColor": "#1a1a1a", "labelPadding": 3,
             "labelFlush": false, "labelOverlap": false,
             "titleFont": "Liberation Sans", "titleFontWeight": "normal", "titleFontSize": 17.5, "titleColor": "#1a1a1a"},
    "axisY": {"labelAngle": 270, "labelAlign": "center", "labelBaseline": "bottom", "labelPadding": 5, "labelOverlap": false},
    "title": {"font": "Liberation Sans", "fontSize": 19, "fontWeight": "normal", "color": "#1a1a1a", "baseline": "alphabetic", "anchor": "middle"},
    "legend": {"orient": "none", "legendX": 262, "legendY": 1, "strokeColor": "#222222", "strokeWidth": 1.2, "padding": 9,
               "symbolType": "circle", "symbolSize": 30, "labelFont": "Liberation Sans", "labelFontSize": 11.5, "labelColor": "#222222",
               "labelOffset": 5, "rowPadding": 0, "fillColor": "white"}
  }
}
